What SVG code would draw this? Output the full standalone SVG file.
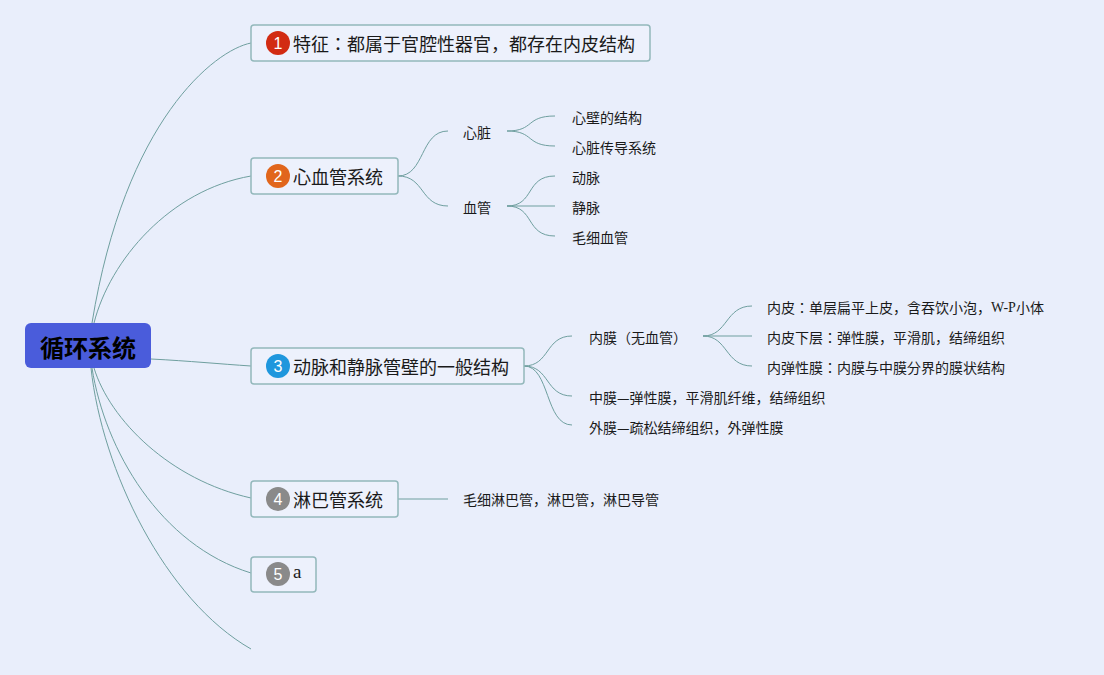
<svg xmlns="http://www.w3.org/2000/svg" width="1104" height="675" viewBox="0 0 1104 675">
<style>
.bg{fill:#e9eefb}
.conn path{fill:none;stroke:#6f9f9f;stroke-width:1}
.box{fill:#edf1fc;stroke:#93b8bb;stroke-width:1.5}
.t18{font-family:"Noto Sans CJK JP","Noto Sans CJK SC","Liberation Sans",sans-serif;font-size:18px;fill:#1a1a1a;dominant-baseline:central}
.t14{font-family:"Noto Sans CJK JP","Noto Sans CJK SC","Liberation Sans",sans-serif;font-size:14px;fill:#1a1a1a;dominant-baseline:central}
.num{font-family:"Liberation Sans",Arial,sans-serif;font-size:16px;fill:#ffffff;text-anchor:middle;dominant-baseline:central}
.serif{font-family:"Liberation Serif",serif}
</style>
<rect class="bg" x="0" y="0" width="1104" height="675"/>
<g id="connectors" class="conn">
<path d="M92 323 C125 120 215 50 251 43"/>
<path d="M94 323 C110 260 170 190 251 176"/>
<path d="M151 359 C190 361 220 364 251 366"/>
<path d="M94 368 C110 420 170 480 251 498"/>
<path d="M92 368 C105 450 160 545 251 573"/>
<path d="M91 368 C102 470 165 600 251 649"/>
<path d="M398 176 C425 176 420 131 448 131"/>
<path d="M398 176 C425 176 420 206 448 206"/>
<path d="M507 131 C535 131 525 116 555 116"/>
<path d="M507 131 C535 131 525 146 555 146"/>
<path d="M507 206 C535 206 525 176 555 176"/>
<path d="M507 206 L555 206"/>
<path d="M507 206 C535 206 525 236 555 236"/>
<path d="M524 366 C550 366 545 336 572 336"/>
<path d="M524 366 C550 366 545 396 572 396"/>
<path d="M524 366 C550 366 545 425 572 425"/>
<path d="M703 336 C728 336 725 306 752 306"/>
<path d="M703 336 L752 336"/>
<path d="M703 336 C728 336 725 366 752 366"/>
<path d="M398 499 L448 499"/>
</g>
<g id="root">
<rect x="25" y="323" width="126" height="45" rx="6" fill="#4a5cdb"/>
<text x="88" y="346" text-anchor="middle" style="font-family:'Noto Sans CJK JP','Noto Sans CJK SC','Liberation Sans',sans-serif;font-size:24px;font-weight:bold;fill:#000;dominant-baseline:central">循环系统</text>
</g>
<g id="node1">
<rect class="box" x="251" y="25" width="399" height="36" rx="3"/>
<circle cx="278" cy="43" r="12" fill="#d22b12"/>
<text class="num" x="278" y="43">1</text>
<text class="t18" x="293" y="43">特征：都属于官腔性器官，都存在内皮结构</text>
</g>
<g id="node2">
<rect class="box" x="251" y="158" width="147" height="36" rx="3"/>
<circle cx="278" cy="176" r="12" fill="#e1661c"/>
<text class="num" x="278" y="176">2</text>
<text class="t18" x="293" y="176">心血管系统</text>
</g>
<g id="n2-heart"><text class="t14" x="463" y="132">心脏</text></g>
<g id="n2-vessel"><text class="t14" x="463" y="207">血管</text></g>
<g id="n2-h1"><text class="t14" x="572" y="117">心壁的结构</text></g>
<g id="n2-h2"><text class="t14" x="572" y="147">心脏传导系统</text></g>
<g id="n2-v1"><text class="t14" x="572" y="177">动脉</text></g>
<g id="n2-v2"><text class="t14" x="572" y="207">静脉</text></g>
<g id="n2-v3"><text class="t14" x="572" y="237">毛细血管</text></g>
<g id="node3">
<rect class="box" x="251" y="348" width="273" height="36" rx="3"/>
<circle cx="278" cy="366" r="12" fill="#1f97dd"/>
<text class="num" x="278" y="366">3</text>
<text class="t18" x="293" y="366">动脉和静脉管壁的一般结构</text>
</g>
<g id="n3-intima"><text class="t14" x="589" y="337">内膜（无血管）</text></g>
<g id="n3-media"><text class="t14" x="589" y="397">中膜—弹性膜，平滑肌纤维，结缔组织</text></g>
<g id="n3-adventitia"><text class="t14" x="589" y="427">外膜—疏松结缔组织，外弹性膜</text></g>
<g id="n3-i1"><text class="t14" x="767" y="307">内皮：单层扁平上皮，含吞饮小泡，<tspan class="serif">W-P</tspan>小体</text></g>
<g id="n3-i2"><text class="t14" x="767" y="337">内皮下层：弹性膜，平滑肌，结缔组织</text></g>
<g id="n3-i3"><text class="t14" x="767" y="367">内弹性膜：内膜与中膜分界的膜状结构</text></g>
<g id="node4">
<rect class="box" x="251" y="481" width="147" height="36" rx="3"/>
<circle cx="278" cy="499" r="12" fill="#8a8a8a"/>
<text class="num" x="278" y="499">4</text>
<text class="t18" x="293" y="499">淋巴管系统</text>
</g>
<g id="n4-c1"><text class="t14" x="463" y="499">毛细淋巴管，淋巴管，淋巴导管</text></g>
<g id="node5">
<rect class="box" x="251" y="557" width="65" height="35" rx="3"/>
<circle cx="278" cy="574" r="12" fill="#8a8a8a"/>
<text class="num" x="278" y="574">5</text>
<text x="293" y="578" style="font-family:'Liberation Serif',serif;font-size:19px;fill:#1a1a1a">a</text>
</g>
</svg>
